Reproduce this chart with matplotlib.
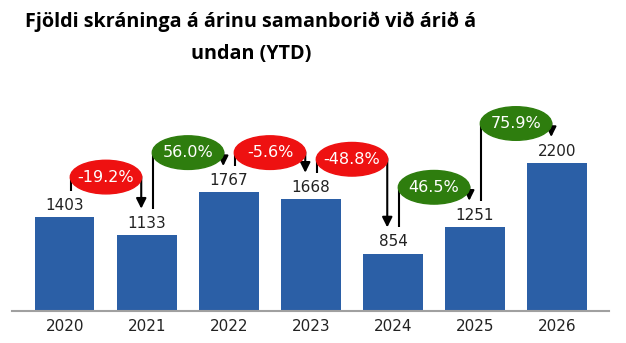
import matplotlib.pyplot as plt
from matplotlib.patches import Ellipse

years = ["2020", "2021", "2022", "2023", "2024", "2025", "2026"]
values = [1403, 1133, 1767, 1668, 854, 1251, 2200]

bar_color = "#2b5fa6"
up_color = "#2e7d0e"
down_color = "#ee1111"

fig = plt.figure(figsize=(6.26, 3.43), dpi=100)
ax = fig.add_axes([12 / 626, 32 / 343, 597 / 626, 211 / 343])

x = list(range(len(years)))
ax.bar(x, values, width=0.72, color=bar_color, zorder=2)

for i, v in enumerate(values):
    ax.annotate(str(v), (i, v), xytext=(0, 3), textcoords="offset points",
                ha="center", va="bottom", fontsize=11, color="#222222")

# change arrows between consecutive years
for i in range(len(values) - 1):
    a, b = values[i], values[i + 1]
    pct = (b - a) / a * 100
    x0, x1 = i + 0.07, i + 1 - 0.07
    top = max(a, b) + 590
    ax.plot([x0, x0, x1], [a + 390, top, top], color="black", lw=1.5, zorder=3,
            solid_capstyle="butt")
    ax.annotate("", xy=(x1, b + 390), xytext=(x1, top + 10),
                arrowprops=dict(arrowstyle="-|>", color="black", lw=1.5,
                                mutation_scale=15, shrinkA=0, shrinkB=0),
                zorder=3)
    col = up_color if pct > 0 else down_color
    e = Ellipse(((x0 + x1) / 2, top), 0.87, 500, color=col, zorder=4)
    ax.add_patch(e)
    ax.text((x0 + x1) / 2, top, f"{pct:.1f}%", color="white", fontsize=11.5,
            ha="center", va="center", zorder=5)

ax.set_xlim(-0.646, 6.634)
ax.set_ylim(0, 3140)
ax.set_xticks(x)
ax.set_xticklabels(years, fontsize=11, color="#222222")
ax.tick_params(axis="x", length=0, pad=6)
ax.set_yticks([])
for s in ["top", "left", "right"]:
    ax.spines[s].set_visible(False)
ax.spines["bottom"].set_color("#a0a0a0")
ax.spines["bottom"].set_linewidth(1.5)

fig.text(251 / 626, 1 - 22 / 343, "Fjöldi skráninga á árinu samanborið við árið á",
         ha="center", va="center", fontsize=14.2, fontweight="bold", family="Open Sans")
fig.text(251 / 626, 1 - 54 / 343, "undan (YTD)",
         ha="center", va="center", fontsize=14.2, fontweight="bold", family="Open Sans")

fig.savefig("out.png", dpi=100)
